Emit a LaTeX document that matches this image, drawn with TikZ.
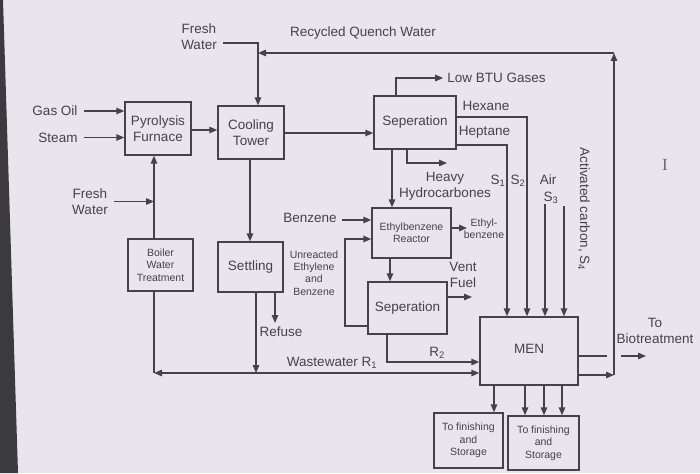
\documentclass[tikz,border=0pt]{standalone}
\usepackage{fontspec}
\setmainfont{Liberation Sans}
\newfontfamily\serifcur{Liberation Serif}
\usetikzlibrary{arrows.meta}
\definecolor{bg}{HTML}{E8E5EC}
\definecolor{edge}{HTML}{3A3A3F}
\definecolor{ink}{HTML}{44434A}
\begin{document}
\begin{tikzpicture}[x=1pt,y=-1pt,
  >={Triangle[length=8pt,width=6.5pt]},
  every node/.style={text=ink},
  big/.style={font=\fontsize{13.5}{16.5}\selectfont},
  small/.style={font=\fontsize{10.5}{12.3}\selectfont},
  box/.style={draw=ink, line width=1.4pt, align=center, inner sep=0pt},
  lbl/.style={align=center, inner sep=0pt},
  line/.style={draw=ink, line width=1.4pt},
  arr/.style={line, ->},
]
\fill[bg] (0,0) rectangle (700,473);
\fill[edge] (0,0) -- (3,0) -- (18,473) -- (0,473) -- cycle;
\useasboundingbox (0,0) rectangle (700,473);

% ---------- boxes ----------
\node[box,big,minimum width=66pt,minimum height=53pt] (pyro) at (158,128.5) {Pyrolysis\\Furnace};
\node[box,big,minimum width=66pt,minimum height=53pt] (cool) at (251,132.5) {Cooling\\Tower};
\node[box,small,minimum width=65pt,minimum height=52pt] (bwt) at (160.5,265) {Boiler\\Water\\Treatment};
\node[box,big,minimum width=65pt,minimum height=50pt] (settle) at (250.5,267) {Settling};
\node[box,big,minimum width=82pt,minimum height=53pt] (sepa) at (415,122.5) {Seperation};
\node[box,small,minimum width=79pt,minimum height=50pt] (reac) at (411.5,233) {Ethylbenzene\\Reactor};
\node[box,big,minimum width=79pt,minimum height=52pt] (sepb) at (407.5,308) {Seperation};
\node[box,big,minimum width=98pt,minimum height=68pt] (men) at (529,351) {\raisebox{4pt}{MEN}};
\node[box,small,minimum width=69pt,minimum height=55pt] (fina) at (468.5,440.5) {To finishing\\and\\Storage};
\node[box,small,minimum width=71pt,minimum height=54pt] (finb) at (543.5,443) {To finishing\\and\\Storage};

% ---------- labels ----------
\node[lbl,big] (gasoil) at (55,111) {Gas Oil};
\node[lbl,big] (steam) at (58,137.5) {Steam};
\node[lbl,big] (fwa) at (199,36.5) {Fresh\\Water};
\node[lbl,big] (fwb) at (90,201.5) {Fresh\\Water};
\node[lbl,big] (rqw) at (363,33) {Recycled Quench Water};
\node[lbl,big] (lowbtu) at (496.5,78) {Low BTU Gases};
\node[lbl,big] (hexane) at (486,106) {Hexane};
\node[lbl,big] (heptane) at (484.5,132) {Heptane};
\node[lbl,big] (heavy) at (445,186.5) {Heavy\\Hydrocarbones};
\node[lbl,big] (sone) at (498,181) {S\textsubscript{1}};
\node[lbl,big] (stwo) at (518,181) {S\textsubscript{2}};
\node[lbl,big] (air) at (548,180) {Air};
\node[lbl,big] (sthree) at (551,198) {S\textsubscript{3}};
\node[lbl,big,rotate=-90] (actc) at (584,209) {Activated carbon, S\textsubscript{4}};
\node[lbl,big] (benz) at (310,218) {Benzene};
\node[lbl,small] (unre) at (314,273) {Unreacted\\Ethylene\\and\\Benzene};
\node[lbl,big] (refuse) at (281,332) {Refuse};
\node[lbl,big] (ww) at (332,363) {Wastewater R\textsubscript{1}};
\node[lbl,big] (rtwo) at (437,353) {R\textsubscript{2}};
\node[lbl,small] (ethyl) at (484,229) {Ethyl-\\benzene};
\node[lbl,big] (vent) at (463,275) {Vent\\Fuel};
\node[lbl,big] (tobio) at (655,331) {To\\Biotreatment};
\node[lbl,font=\serifcur\fontsize{17}{17}\selectfont,text=ink!80] (cursor) at (665,165) {I};

% ---------- helper coordinates ----------
\coordinate (fwc) at (258,43);
\coordinate (rqL) at (258,53);
\coordinate (rqR) at (614,53);
\coordinate (rqB) at (614,375);
\coordinate (xbw) at (154,0);
\coordinate (wwc) at (154,373);
\coordinate (xset) at (256,0);
\coordinate (refc) at (275,323);
\coordinate (xct) at (250,0);
\coordinate (ysep) at (0,133);
\coordinate (btu) at (396,76);
\coordinate (hhc) at (407,163);
\coordinate (hhe) at (447,163);
\coordinate (xsr) at (392,0);
\coordinate (xrs) at (390,0);
\coordinate (loopA) at (345,326);
\coordinate (loopB) at (345,239);
\coordinate (ethc) at (467,228);
\coordinate (ventc) at (472,297);
\coordinate (rtc) at (387,362);
\coordinate (hexc) at (527,117);
\coordinate (hepc) at (507,145);
\coordinate (sthreec) at (545,204);
\coordinate (sfourc) at (564,206);
\coordinate (bioA) at (607,356);
\coordinate (bioB) at (621,356);
\coordinate (bioC) at (646,356);
\coordinate (xfa) at (494,0);
\coordinate (xfb) at (525,0);
\coordinate (xfc) at (544,0);
\coordinate (xfd) at (562,0);

% ---------- connectors ----------
\draw[arr] ([xshift=6pt]gasoil.east) -- (gasoil.east -| pyro.west);
\draw[arr] ([xshift=6pt]steam.east) -- (steam.east -| pyro.west);
\draw[arr] (pyro.east |- 0,130) -- (cool.west |- 0,130);
\draw[arr] ([xshift=6pt]fwa.east |- fwc) -- (fwc) -- (fwc |- cool.north);
\draw[arr] (cool.east |- ysep) -- (sepa.west |- ysep);
\draw[arr] (cool.south -| xct) -- (settle.north -| xct);

% boiler water / fresh water
\draw[arr] (bwt.north -| xbw) -- (pyro.south -| xbw);
\draw[arr] ([xshift=6pt]fwb.east) -- (fwb.east -| xbw);
\draw[line] (bwt.south -| xbw) -- (wwc);
\draw[line,<->] (wwc) -- (wwc -| men.west);
\draw[arr] (settle.south -| xset) -- (wwc -| xset);
\draw[arr] (settle.south -| refc) -- (refc);

% recycled quench water loop
\draw[arr] (men.east |- rqB) -- (rqB);
\draw[arr] (rqB) -- (rqR);
\draw[arr] (rqR) -- (rqL);
\draw[line] (men.east |- bioA) -- (bioA);
\draw[arr] (bioB) -- (bioC);

% separation outputs
\draw[arr] (sepa.north -| btu) |- ([xshift=-4pt]lowbtu.west);
\draw[arr] (sepa.east |- hexc) -- (hexc) -- (hexc |- men.north);
\draw[arr] (sepa.east |- hepc) -- (hepc) -- (hepc |- men.north);
\draw[arr] (sepa.south -| hhc) -- (hhc) -- (hhe);
\draw[arr] (sepa.south -| xsr) -- (reac.north -| xsr);
\draw[arr] (sthreec) -- (sthreec |- men.north);
\draw[arr] (sfourc) -- (sfourc |- men.north);

% ethylbenzene section
\draw[arr] ([xshift=5pt]benz.east |- 0,220) -- (reac.west |- 0,220);
\draw[arr] (sepb.west |- loopA) -- (loopA) -- (loopB) -- (reac.west |- loopB);
\draw[arr] (reac.east |- ethc) -- (ethc);
\draw[arr] (reac.south -| xrs) -- (sepb.north -| xrs);
\draw[arr] (sepb.east |- ventc) -- (ventc);
\draw[arr] (sepb.south -| rtc) -- (rtc) -- (rtc -| men.west);

% MEN to storage
\draw[arr] (men.south -| xfa) -- (fina.north -| xfa);
\draw[arr] (men.south -| xfb) -- (finb.north -| xfb);
\draw[arr] (men.south -| xfc) -- (finb.north -| xfc);
\draw[arr] (men.south -| xfd) -- (finb.north -| xfd);
\end{tikzpicture}
\end{document}
